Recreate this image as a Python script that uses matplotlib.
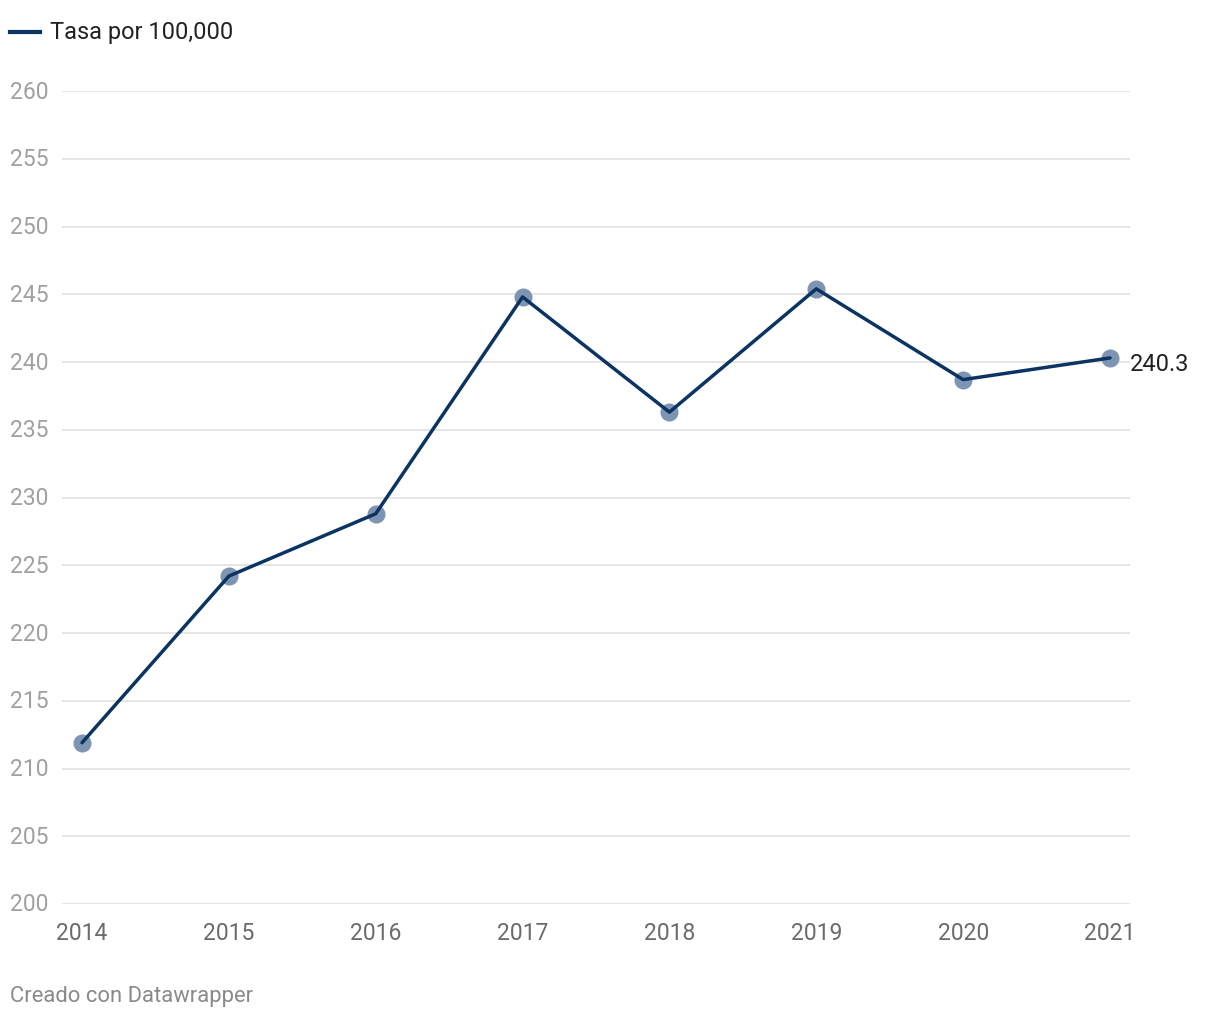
import matplotlib
matplotlib.use("Agg")
import matplotlib.pyplot as plt
from matplotlib.lines import Line2D
import matplotlib.transforms as mtransforms

plt.rcParams['font.family'] = ['Roboto', 'DejaVu Sans']

years = [2014, 2015, 2016, 2017, 2018, 2019, 2020, 2021]
tasa = [211.9, 224.2, 228.8, 244.8, 236.3, 245.4, 238.7, 240.3]
yticks = [200, 205, 210, 215, 220, 225, 230, 235, 240, 245, 250, 255, 260]
series_label = "Tasa por 100,000"
footer = "Creado con Datawrapper"

W, H = 1220, 1020
fig = plt.figure(figsize=(W / 100, H / 100), dpi=100)
ax = fig.add_axes([62 / W, (H - 905) / H, (1130 - 62) / W, (905 - 92) / H])

line_color = "#0c3463"
marker_color = "#7d95b3"

ax.plot(years, tasa, color=line_color, lw=2.5, zorder=4, solid_capstyle='round')
ax.plot(years, tasa, 'o', color=marker_color, ms=13, mec='none', zorder=3)

span = (1110 - 82) / 7
ax.set_xlim(2014 - 20 / span, 2021 + 20 / span)
ax.set_ylim(200, 260)

ax.set_yticks(yticks)
ax.set_yticklabels([])
ax.grid(False)
for v in yticks:
    ax.axhline(v, color="#e0e0e0", lw=1.2, zorder=1)

trans = mtransforms.blended_transform_factory(fig.transFigure, ax.transData)
for v in yticks:
    ax.text(10 / W, v, str(v), transform=trans, ha='left', va='center',
            fontsize=16.5, color="#a0a0a0")

ax.set_xticks(years)
ax.set_xticklabels([str(y) for y in years], fontsize=16.5, color="#6b6b6b")
ax.tick_params(axis='x', length=0, pad=12)
ax.tick_params(axis='y', length=0)
for s in ax.spines.values():
    s.set_visible(False)

ax.annotate(f"{tasa[-1]:.1f}", (years[-1], tasa[-1]), xytext=(14, -4),
            textcoords='offset points', ha='left', va='center', fontsize=17,
            color="#222222", zorder=5)

# legend
fig.add_artist(Line2D([10 / W, 40 / W], [(H - 33) / H] * 2, color=line_color, lw=3))
fig.text(50 / W, (H - 33) / H, series_label, ha='left', va='center', fontsize=17,
         color="#222222")

fig.text(10 / W, (H - 997) / H, footer, ha='left', va='center', fontsize=15.8,
         color="#8a8a8a")

fig.savefig("out.png", dpi=100, facecolor="white")
